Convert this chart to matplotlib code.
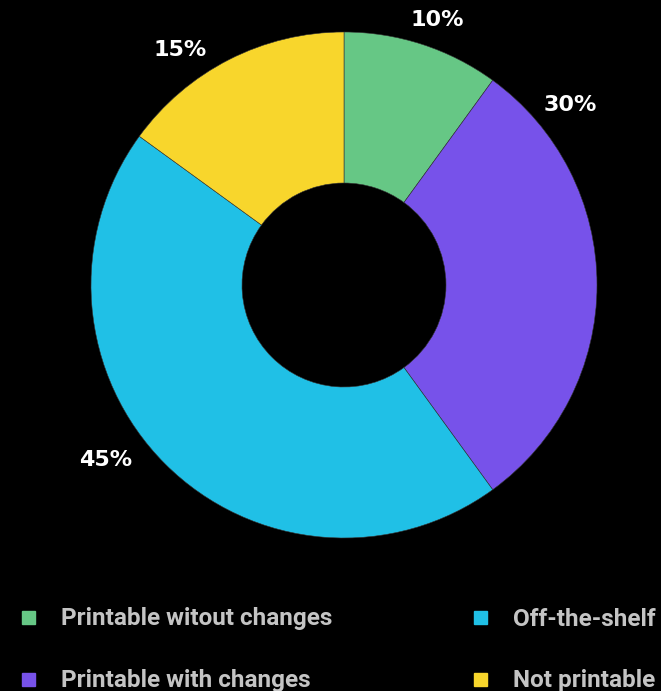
import matplotlib
matplotlib.use("Agg")
import matplotlib.pyplot as plt
from matplotlib.patches import Rectangle

categories = ["Printable witout changes", "Printable with changes", "Off-the-shelf", "Not printable"]
values = [10, 30, 45, 15]
colors = ["#66c785", "#7752ea", "#20c0e6", "#f8d62c"]
pct_labels = ["10%", "30%", "45%", "15%"]

W, H = 661, 691
fig = plt.figure(figsize=(W / 100, H / 100), dpi=100, facecolor="black")
ax = fig.add_axes([0, 0, 1, 1])
ax.set_facecolor("black")

cx, cy, R, r_in = 344, 285, 253, 102
# y axis is inverted below: counterclockwise in data space appears clockwise on screen
ax.pie(values, colors=colors, center=(cx, cy), radius=R, startangle=-90,
       counterclock=True, wedgeprops=dict(width=R - r_in, edgecolor="#333333", linewidth=0.4),
       frame=True)
ax.set_xlim(0, W)
ax.set_ylim(H, 0)
ax.set_aspect("equal")
ax.axis("off")

label_pos = [(437, 20), (570, 105), (106, 460), (180, 50)]
for (x, y), t in zip(label_pos, pct_labels):
    ax.text(x, y, t, color="white", fontsize=16, fontweight="bold",
            ha="center", va="center", family="DejaVu Sans")

leg_pos = [(28, 617), (28, 679), (480, 617), (480, 679)]
for (x, y), c, t in zip(leg_pos, colors, categories):
    ax.add_patch(Rectangle((x - 6.5, y - 6.5), 13, 13, color=c))
    ax.text(x + 33, y + 2, t, color="#c4c4c4", fontsize=17.5, fontweight="bold",
            ha="left", va="center", family="Roboto")

fig.savefig("out.png", dpi=100, facecolor="black")
